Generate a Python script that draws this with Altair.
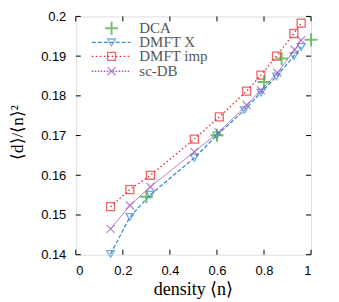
import altair as alt
import pandas as pd

# ---- data ----
dca_x = [0.30, 0.60, 0.80, 0.875, 1.0]
dca_y = [0.1546, 0.1701, 0.1835, 0.1894, 0.1941]

dmftx_x = [0.148, 0.23, 0.317, 0.504, 0.599, 0.716, 0.787, 0.853, 0.927, 0.958]
dmftx_y = [0.1402, 0.1495, 0.1551, 0.1644, 0.1700, 0.1764, 0.1808, 0.1849, 0.1900, 0.1923]

imp_x = [0.148, 0.23, 0.317, 0.504, 0.61, 0.726, 0.787, 0.853, 0.927, 0.958]
imp_y = [0.1521, 0.1564, 0.1600, 0.1691, 0.1747, 0.1812, 0.1852, 0.1900, 0.1957, 0.1983]

scdb_x = [0.148, 0.23, 0.317, 0.504, 0.607, 0.726, 0.787, 0.857, 0.93, 0.958]
scdb_y = [0.1465, 0.1524, 0.1571, 0.1659, 0.1708, 0.1777, 0.1814, 0.1858, 0.1916, 0.1940]

series_names = ["DCA", "DMFT X", "DMFT imp", "sc-DB"]
x_ticks = [0, 0.2, 0.4, 0.6, 0.8, 1.0]
y_ticks = [0.14, 0.15, 0.16, 0.17, 0.18, 0.19, 0.20]
x_title = "density ⟨n⟩"
y_title = "⟨d⟩/⟨n⟩²"

# ---- styles ----
GREEN = "#3aa83a"
BLUE = "#3b8ed2"
RED = "#e8262b"
PURPLE = "#a35bbb"
PLUS = "M-1,0L1,0M0,-1L0,1"
XMARK = "M-1,-1L1,1M-1,1L1,-1"
W, H = 236, 239

X0, X1, Y0, Y1 = 0.0, 1.0, 0.14, 0.20
xs = alt.Scale(domain=[X0, X1], nice=False, zero=False)
ys = alt.Scale(domain=[Y0, Y1], nice=False, zero=False)

axis_x = alt.Axis(values=x_ticks, format="~g", ticks=False, domain=False, grid=False,
                  labelFont="Liberation Sans", labelFontSize=13, labelColor="#000",
                  labelPadding=10, labelOverlap=False, title=None)
axis_y = alt.Axis(values=y_ticks, format="~g", ticks=False, domain=False, grid=False,
                  labelFont="Liberation Sans", labelFontSize=13, labelColor="#000",
                  labelPadding=10, labelOverlap=False, title=None)

def df(x, y):
    return pd.DataFrame({"x": x, "y": y})

def X(field="x:Q"):
    return alt.X(field, scale=xs, axis=axis_x)

def Y(field="y:Q"):
    return alt.Y(field, scale=ys, axis=axis_y)

layers = []

# inward ticks on all four sides
tl_x = 5 / W * (X1 - X0)
tl_y = 5 / H * (Y1 - Y0)
xt = pd.DataFrame({"x": x_ticks, "ya": [Y0] * 6, "yb": [Y0 + tl_y] * 6,
                   "yc": [Y1] * 6, "yd": [Y1 - tl_y] * 6})
yt = pd.DataFrame({"y": y_ticks, "xa": [X0] * 7, "xb": [X0 + tl_x] * 7,
                   "xc": [X1] * 7, "xd": [X1 - tl_x] * 7})
layers.append(alt.Chart(xt).mark_rule(color="black", strokeWidth=1).encode(
    x=X(), y=Y("ya:Q"), y2="yb:Q"))
layers.append(alt.Chart(xt).mark_rule(color="black", strokeWidth=1).encode(
    x=X(), y=Y("yc:Q"), y2="yd:Q"))
layers.append(alt.Chart(yt).mark_rule(color="black", strokeWidth=1).encode(
    y=Y(), x=X("xa:Q"), x2="xb:Q"))
layers.append(alt.Chart(yt).mark_rule(color="black", strokeWidth=1).encode(
    y=Y(), x=X("xc:Q"), x2="xd:Q"))

# series
layers.append(alt.Chart(df(dmftx_x, dmftx_y)).mark_line(
    color=BLUE, strokeWidth=1.3, strokeDash=[4, 2]).encode(x=X(), y=Y()))
layers.append(alt.Chart(df(dmftx_x, dmftx_y)).mark_point(
    shape="triangle-down", size=60, color=BLUE, strokeWidth=1.3, filled=False).encode(x=X(), y=Y()))

layers.append(alt.Chart(df(imp_x, imp_y)).mark_line(
    color=RED, strokeWidth=1.3, strokeDash=[1.5, 2.5]).encode(x=X(), y=Y()))
layers.append(alt.Chart(df(imp_x, imp_y)).mark_point(
    shape="square", size=64, color=RED, strokeWidth=1.3, filled=False).encode(x=X(), y=Y()))

layers.append(alt.Chart(df(scdb_x, scdb_y)).mark_line(
    color=PURPLE, strokeWidth=1.0, opacity=0.8).encode(x=X(), y=Y()))
layers.append(alt.Chart(df(scdb_x, scdb_y)).mark_point(
    shape=XMARK, size=64, color=PURPLE, strokeWidth=1.3, filled=False).encode(x=X(), y=Y()))

layers.append(alt.Chart(df(dca_x, dca_y)).mark_point(
    shape=PLUS, size=170, color=GREEN, strokeWidth=2, filled=False, clip=False).encode(x=X(), y=Y()))

# legend (in data coordinates)
leg_rows = [0.1970, 0.19347, 0.18996, 0.18619]
lx0, lx1, lxm, ltx = 0.068, 0.233, 0.152, 0.27
leg = pd.DataFrame({"name": series_names, "y": leg_rows,
                    "x0": [lx0] * 4, "x1": [lx1] * 4, "xm": [lxm] * 4, "xt": [ltx] * 4})
styles = [
    (GREEN, None, PLUS, 170, 2.0),
    (BLUE, [4, 2], "triangle-down", 60, 1.3),
    (RED, [1.5, 2.5], "square", 64, 1.3),
    (PURPLE, [1.5, 1.5], XMARK, 64, 1.3),
]
for i, (col, dash, shp, sz, sw) in enumerate(styles):
    row = leg.iloc[[i]]
    if dash is not None:
        layers.append(alt.Chart(row).mark_rule(color=col, strokeWidth=1.3, strokeDash=dash).encode(
            x=X("x0:Q"), x2="x1:Q", y=Y()))
    layers.append(alt.Chart(row).mark_point(shape=shp, size=sz, color=col, strokeWidth=sw,
                                            filled=False).encode(x=X("xm:Q"), y=Y()))
layers.append(alt.Chart(leg).mark_text(align="left", baseline="middle", font="Liberation Serif",
                                       fontSize=15, color="#555").encode(
    x=X("xt:Q"), y=Y(), text="name:N"))

# axis titles as text
titles = pd.DataFrame({"t": [x_title]})
layers.append(alt.Chart(titles).mark_text(
    font="Liberation Serif", fontSize=18, color="#000", align="center", baseline="middle"
).encode(x=alt.value(W / 2), y=alt.value(H + 35), text="t:N"))
titles_y = pd.DataFrame({"t": [y_title]})
layers.append(alt.Chart(titles_y).mark_text(
    font="Liberation Serif", fontSize=17, color="#000", align="center", baseline="middle",
    angle=270
).encode(x=alt.value(-58), y=alt.value(H / 2 - 3), text="t:N"))

chart = alt.layer(*layers).properties(
    width=W, height=H,
    autosize=alt.AutoSizeParams(type="none"),
    padding={"left": 68, "top": 8, "right": 20, "bottom": 47},
).configure_view(stroke="black", strokeWidth=1.2).configure(background="white")

chart.save("out.html", embed_options={"renderer": "svg", "actions": False})
